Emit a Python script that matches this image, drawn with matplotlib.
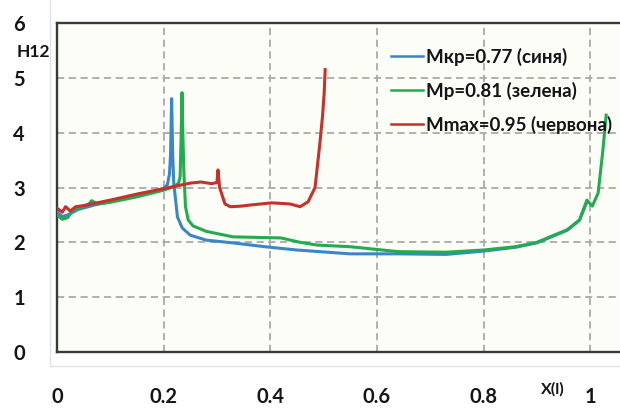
import matplotlib
matplotlib.use("Agg")
import matplotlib.pyplot as plt
from matplotlib.lines import Line2D

# curve data (x = X(l), y = H12)
blue_x = [0.0, 0.01, 0.02, 0.04, 0.07, 0.1, 0.15, 0.2, 0.207, 0.211, 0.213, 0.215,
          0.217, 0.219, 0.226, 0.235, 0.25, 0.28, 0.33, 0.39, 0.45, 0.55, 0.64,
          0.73, 0.8, 0.86, 0.9, 0.957, 0.98, 0.994]
blue_y = [2.55, 2.47, 2.5, 2.6, 2.68, 2.74, 2.85, 2.98, 3.05, 3.25, 3.6, 4.62,
          3.6, 3.08, 2.46, 2.26, 2.13, 2.04, 1.99, 1.92, 1.86, 1.79, 1.79,
          1.78, 1.84, 1.91, 1.99, 2.22, 2.4, 2.74]

green_x = [0.0, 0.01, 0.02, 0.03, 0.04, 0.06, 0.065, 0.075, 0.1, 0.15, 0.2, 0.22,
           0.228, 0.231, 0.233, 0.2345, 0.236, 0.238, 0.241, 0.246, 0.255, 0.28,
           0.33, 0.42, 0.456, 0.488, 0.55, 0.64, 0.73, 0.8, 0.86, 0.9, 0.957,
           0.98, 0.994, 1.004, 1.015, 1.024, 1.03]
green_y = [2.5, 2.42, 2.45, 2.6, 2.62, 2.7, 2.76, 2.7, 2.73, 2.83, 2.95, 3.02,
           3.08, 3.2, 4.0, 4.73, 4.0, 3.27, 2.65, 2.41, 2.3, 2.2,
           2.1, 2.08, 2.0, 1.95, 1.92, 1.83, 1.82, 1.86, 1.92, 2.0, 2.23,
           2.41, 2.77, 2.66, 2.9, 3.69, 4.32]

red_x = [0.0, 0.01, 0.016, 0.025, 0.035, 0.05, 0.1, 0.15, 0.2, 0.25, 0.27, 0.29,
         0.3, 0.302, 0.305, 0.315, 0.325, 0.345, 0.362, 0.403, 0.437, 0.456,
         0.471, 0.484, 0.493, 0.498, 0.501, 0.503]
red_y = [2.62, 2.55, 2.65, 2.57, 2.65, 2.67, 2.77, 2.88, 2.98, 3.08, 3.1, 3.07,
         3.09, 3.32, 3.0, 2.7, 2.65, 2.66, 2.68, 2.72, 2.7, 2.65,
         2.74, 3.0, 3.8, 4.3, 4.7, 5.15]

legend_labels = ["Мкр=0.77 (синя)", "Мр=0.81 (зелена)", "Mmax=0.95 (червона)"]
colors = ["#3a86c8", "#22ac4e", "#c8302a"]
x_ticks = [0, 0.2, 0.4, 0.6, 0.8, 1]
x_tick_labels = ["0", "0.2", "0.4", "0.6", "0.8", "1"]
y_ticks = [0, 1, 2, 3, 4, 5, 6]

plt.rcParams["font.family"] = ["Lato", "DejaVu Sans"]

fig = plt.figure(figsize=(6.2, 4.08), dpi=100)
ax = fig.add_axes([57 / 620, 56 / 408, 1 - 57 / 620, 329 / 408])
ax.set_facecolor("#fcfdf7")

ax.set_xlim(0, 1.056)
ax.set_ylim(0, 6)
ax.set_xticks(x_ticks)
ax.set_xticklabels(x_tick_labels)
ax.set_yticks(y_ticks)
ax.tick_params(length=0, labelsize=14.5)
ax.tick_params(axis="x", pad=25)
ax.tick_params(axis="y", pad=23)
for lab in ax.get_xticklabels() + ax.get_yticklabels():
    lab.set_fontweight("bold")
    lab.set_color("#151515")

ax.grid(True, color="#a9a9a9", lw=1.3, linestyle=(0, (4, 2.5)))
ax.set_axisbelow(True)
for side in ["left", "top", "bottom"]:
    ax.spines[side].set_color("#353b35")
    ax.spines[side].set_linewidth(1.7)
ax.spines["right"].set_visible(False)

ax.plot(blue_x, blue_y, color=colors[0], lw=2.2, zorder=3)
ax.plot(red_x, red_y, color=colors[2], lw=2.2, zorder=4)
ax.plot(green_x, green_y, color=colors[1], lw=2.2, zorder=3.5)

handles = [Line2D([], [], color=c, lw=1.8) for c in colors]
leg = ax.legend(handles, legend_labels, loc="upper left",
                bbox_to_anchor=(326 / 563, 1 - 17 / 329), frameon=False,
                handlelength=1.75, handletextpad=0.15, labelspacing=0.85,
                prop={"size": 13.5, "weight": "bold"}, borderaxespad=0)
for t in leg.get_texts():
    t.set_color("#151515")

fig.text(17 / 620, 1 - 52 / 408, "H12", fontsize=12.5, fontweight="bold",
         va="center", ha="left", color="#151515")
fig.text(553 / 620, 1 - 389 / 408, "X(l)", fontsize=11.5, fontweight="bold",
         va="center", ha="center", color="#151515")

# faint outer chart-area border
fig.add_artist(Line2D([50 / 620, 50 / 620], [1.0, 1 - 366 / 408],
                      transform=fig.transFigure, color="#e2e2ea", lw=1.0))
fig.add_artist(Line2D([50 / 620, 1.0], [1 - 366 / 408, 1 - 366 / 408],
                      transform=fig.transFigure, color="#e2e2ea", lw=1.0))

fig.savefig("out.png", dpi=100)
